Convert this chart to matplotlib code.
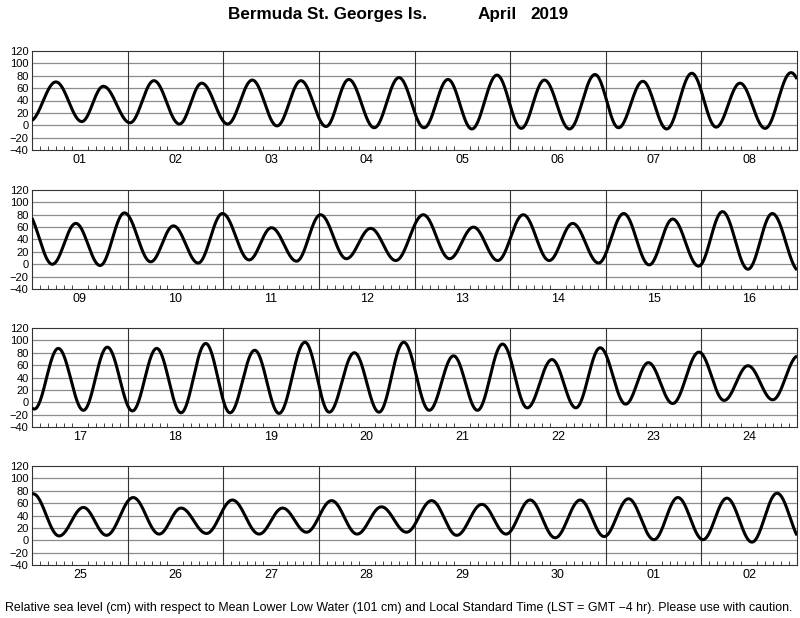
import numpy as np
import matplotlib
matplotlib.use("Agg")
import matplotlib.pyplot as plt
from matplotlib.ticker import MultipleLocator

plt.rcParams["font.family"] = ["Liberation Sans", "DejaVu Sans"]

# High and low waters (hours since 1 April 00:00 LST, cm)
high_hours = [6.0, 17.9, 30.6, 42.6, 55.3, 67.5, 79.5, 92.1, 104.4, 116.7, 128.6, 141.3,
              153.3, 165.6, 177.7, 190.5, 203.0, 215.2, 227.5, 239.8, 252.1, 264.4, 277.0,
              290.2, 302.8, 315.3, 327.7, 340.5, 352.8, 365.3, 377.8, 390.6, 402.9, 415.3,
              427.6, 439.9, 452.5, 464.9, 477.3, 489.8, 502.1, 514.5, 526.6, 538.7, 551.4,
              563.7, 576.3, 588.9, 601.4, 613.4, 626.3, 638.9, 651.2, 663.7, 676.3, 688.9,
              701.0, 713.6, 725.7, 738.1, 750.4, 763.0]
high_cm = [70, 63, 72, 68, 73, 72, 74, 77, 74, 81, 73, 82,
           71, 84, 68, 85, 66, 83, 62, 82, 59, 80, 58,
           80, 60, 80, 66, 82, 73, 85, 82, 87, 89, 87,
           95, 84, 97, 80, 97, 75, 94, 69, 88, 64, 81,
           59, 75, 53, 69, 52, 65, 52, 64, 54, 64, 58,
           65, 65, 67, 69, 68, 76]
low_hours = [-0.5, 12.5, 24.6, 37.0, 49.1, 61.5, 73.8, 85.9, 98.4, 110.4, 122.8, 134.9,
             147.2, 159.3, 171.7, 184.0, 197.1, 209.1, 221.8, 233.7, 246.5, 258.4, 270.9,
             283.3, 296.8, 308.9, 321.8, 334.2, 346.9, 359.3, 371.7, 384.6, 396.9, 409.2,
             421.4, 433.7, 446.0, 458.6, 471.1, 483.7, 495.8, 508.3, 520.5, 533.0, 544.8,
             557.7, 569.9, 582.8, 594.7, 607.9, 619.8, 633.0, 644.9, 657.6, 670.0, 682.6,
             695.0, 707.3, 719.6, 732.1, 744.4, 756.7, 769.5]
low_cm = [7, 6, 4, 2, 2, -1, -2, -4, -4, -6, -5, -6,
          -4, -6, -3, -5, 0, -2, 4, 2, 7, 5, 9,
          6, 9, 6, 6, 2, -1, -3, -8, -11, -13, -14,
          -17, -17, -18, -16, -16, -13, -13, -9, -9, -3, -2,
          3, 4, 7, 8, 10, 11, 10, 13, 10, 13, 8,
          10, 4, 6, 1, 1, -3, -2]

day_labels = ["01", "02", "03", "04", "05", "06", "07", "08",
              "09", "10", "11", "12", "13", "14", "15", "16",
              "17", "18", "19", "20", "21", "22", "23", "24",
              "25", "26", "27", "28", "29", "30", "01", "02"]

# merge highs and lows into one time-ordered sequence of turning points
t_ext = np.array(high_hours + low_hours)
h_ext = np.array(high_cm + low_cm, dtype=float)
order = np.argsort(t_ext)
t_ext, h_ext = t_ext[order], h_ext[order]


def tide_curve(t):
    # cosine shape between successive high and low waters
    i = np.clip(np.searchsorted(t_ext, t) - 1, 0, len(t_ext) - 2)
    t0, t1 = t_ext[i], t_ext[i + 1]
    h0, h1 = h_ext[i], h_ext[i + 1]
    frac = (t - t0) / (t1 - t0)
    return (h0 + h1) / 2 + (h0 - h1) / 2 * np.cos(np.pi * frac)


fig = plt.figure(figsize=(8, 6.18), dpi=100)
W, H = 800, 618
panel_tops = [51, 190, 328, 466]
panel_h = 99

for p, top in enumerate(panel_tops):
    ax = fig.add_axes([32 / W, 1 - (top + panel_h) / H, 765 / W, panel_h / H])
    start = p * 192
    end = start + 192
    t = np.linspace(start, end, 3000)
    ax.plot(t, tide_curve(t), color="black", lw=2.2, zorder=3, solid_capstyle="butt")

    ax.set_xlim(start, end)
    ax.set_ylim(-40, 120)
    ax.set_yticks(np.arange(-40, 121, 20))
    for y in np.arange(-20, 120, 20):
        ax.axhline(y, color="#8c8c8c", lw=0.9, zorder=1)
    for d in range(1, 8):
        ax.axvline(start + d * 24, color="#333333", lw=0.8, zorder=2)

    days = day_labels[p * 8:(p + 1) * 8]
    ax.set_xticks([start + 12 + 24 * k for k in range(8)])
    ax.set_xticklabels(days, fontsize=9)
    ax.xaxis.set_minor_locator(MultipleLocator(2))
    ax.tick_params(axis="x", which="major", length=0, pad=3)
    ax.tick_params(axis="x", which="minor", direction="in", length=3, width=0.7,
                   color="#444444", top=False)
    ax.tick_params(axis="y", length=0, pad=2.5, labelsize=8)
    for s in ax.spines.values():
        s.set_color("#333333")
        s.set_linewidth(0.8)

title_y = 1 - 19 / H
fig.text(228 / W, title_y, "Bermuda St. Georges Is.", fontsize=12.3,
         fontweight="bold", ha="left", va="baseline")
fig.text(478 / W, title_y, "April", fontsize=12.3, fontweight="bold",
         ha="left", va="baseline")
fig.text(530 / W, title_y, "2019", fontsize=12.3, fontweight="bold",
         ha="left", va="baseline")
fig.text(399 / W, 1 - 608 / H,
         "Relative sea level (cm) with respect to Mean Lower Low Water (101 cm) and "
         "Local Standard Time (LST = GMT \u22124 hr). Please use with caution.",
         fontsize=8.9, ha="center", va="center")

fig.savefig("out.png", dpi=100)
